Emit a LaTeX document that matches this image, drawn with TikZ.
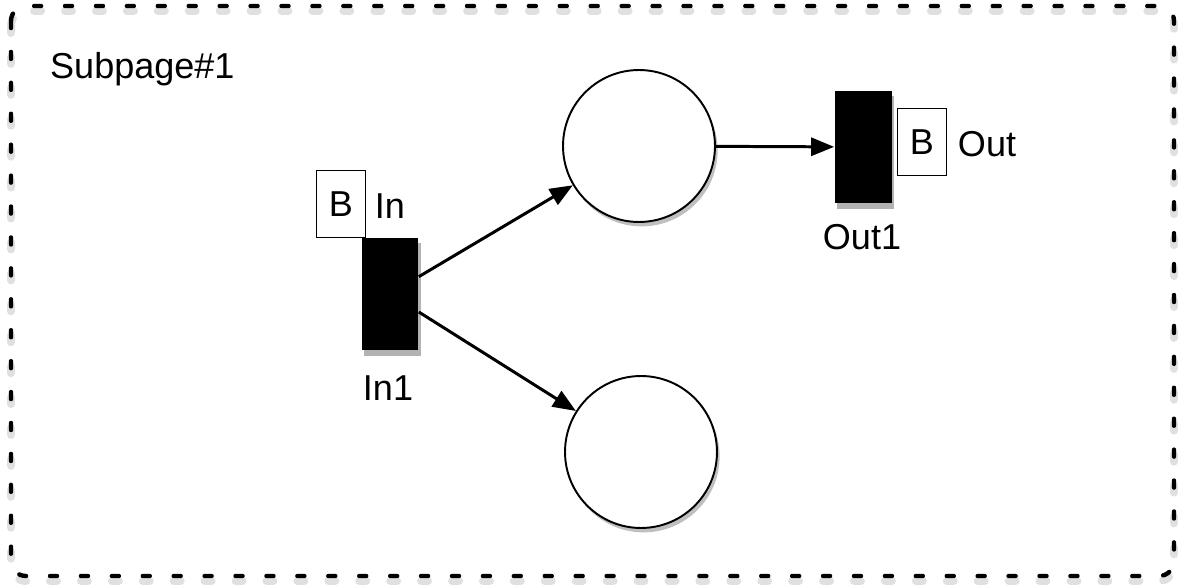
\documentclass[tikz,border=0pt]{standalone}
\usepackage{fontspec}
\setmainfont{Liberation Sans}
\usetikzlibrary{arrows.meta,shadows}

\begin{document}
\begin{tikzpicture}[
  x=0.02cm, y=-0.02cm,
  every node/.style={font=\fontsize{20.5}{24}\selectfont},
  place/.style={circle, draw, line width=1.1pt, fill=white,
                minimum size=3.04cm, inner sep=0pt,
                drop shadow={shadow xshift=1.5pt, shadow yshift=-2.5pt,
                             opacity=0.25, fill=black}},
  trans/.style={rectangle, fill=black, inner sep=0pt,
                minimum width=1.14cm, minimum height=2.26cm,
                drop shadow={shadow xshift=1.5pt, shadow yshift=-3pt,
                             opacity=0.3, fill=black}},
  portbox/.style={rectangle, draw, line width=0.7pt, fill=white,
                  minimum width=0.97cm, minimum height=1.35cm, inner sep=0pt},
  arr/.style={-{Triangle[length=0.46cm, width=0.36cm]}, line width=1.7pt},
  frame/.style={line width=2.5pt, line cap=round, rounded corners=0.3cm,
                dash pattern=on 4pt off 13.6pt},
  frameshadow/.style={frame, line width=4.5pt, draw=black, opacity=0.12,
                      shift={(0,5)}},
]
\useasboundingbox (0,0) rectangle (1181,588);

%% ── Subpage frame ────────────────────────────
\draw[frameshadow] (11,6) rectangle (1174,576);
\draw[frame]       (11,6) rectangle (1174,576);
\node[anchor=west] at (44,69) (title) {Subpage\#1};

%% ── Places ───────────────────────────────────
\node[place] at (639,146) (ptop) {};
\node[place] at (641,452) (pbot) {};

%% ── Transitions ──────────────────────────────
\node[trans] at (390,294) (in1)  {};
\node[trans] at (863,147) (out1) {};

%% ── Port tags ────────────────────────────────
\node[portbox] at (341,204) (bin)  {B};
\node          at (390,206) (lin)  {In};
\node[portbox] at (922,142) (bout) {B};
\node          at (987,144) (lout) {Out};

%% ── Transition names ─────────────────────────
\node at (388,388) (nin1)  {In1};
\node at (862,237) (nout1) {Out1};

%% ── Arcs ─────────────────────────────────────
\draw[arr] (in1.31)  -- (ptop);
\draw[arr] (in1.-32) -- (pbot);
\draw[arr] (ptop)    -- (out1);

\end{tikzpicture}
\end{document}
